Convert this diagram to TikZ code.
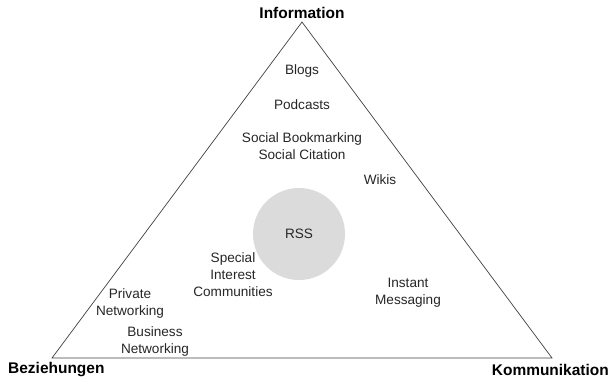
\documentclass[tikz,border=0pt]{standalone}
\usepackage{fontspec}
\setmainfont{Liberation Sans}
\tikzstyle{corner}=[font=\fontsize{13.2}{15}\selectfont\bfseries,inner sep=0pt]
\tikzstyle{tool}=[font=\fontsize{11.6}{14.5}\selectfont,align=center,inner sep=0pt,text=black!85]
\tikzstyle{hub}=[fill=black!14,circle,minimum size=92*0.03cm,inner sep=0pt]

\begin{document}
\begin{tikzpicture}[x=0.03cm,y=-0.03cm]
\useasboundingbox (0,0) rectangle (611,380);

% corners of the triangle
\coordinate (top) at (302,22);
\coordinate (left) at (52,358);
\coordinate (right) at (552,358);

% the circle in the middle
\node[hub] (rss-circle) at (299,234) {};
\node[tool] (rss) at (299,234) {RSS};

\draw[black!75,line width=0.6pt] (top) -- (left) -- (right) -- cycle;

% labels of the corners
\node[corner] (information) at (302,13) {Information};
\node[corner,anchor=west] (beziehungen) at (8,370) {Beziehungen};
\node[corner,anchor=east] (kommunikation) at (609,370) {Kommunikation};

% tools near information
\node[tool] (blogs) at (302,71) {Blogs};
\node[tool] (podcasts) at (302,105) {Podcasts};
\node[tool] (bookmarking) at (302,146) {Social Bookmarking\\Social Citation};
\node[tool] (wikis) at (380,180) {Wikis};

% tools near beziehungen
\node[tool] (communities) at (233,275) {Special\\Interest\\Communities};
\node[tool] (private) at (130,303) {Private\\Networking};
\node[tool] (business) at (155,341) {Business\\Networking};

% tools near kommunikation
\node[tool] (messaging) at (408,293) {Instant\\Messaging};

\end{tikzpicture}
\end{document}
